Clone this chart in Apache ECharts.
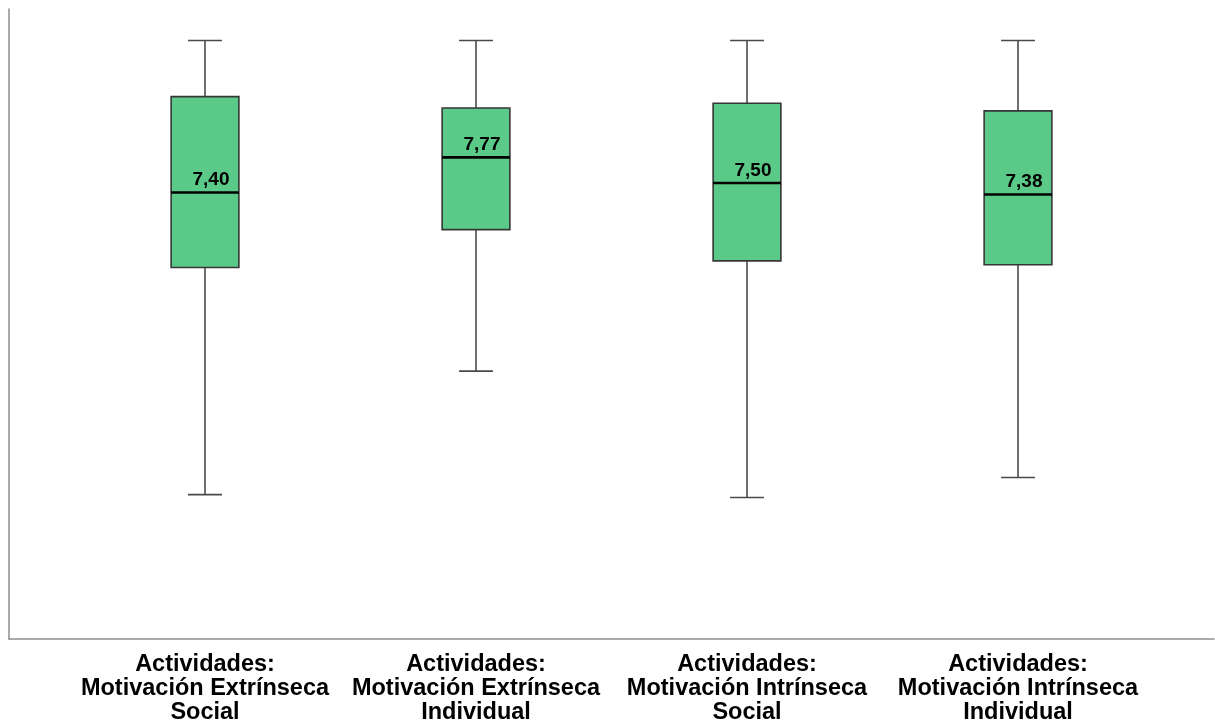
<!DOCTYPE html>
<html>
<head>
<meta charset="utf-8">
<script src="https://cdn.jsdelivr.net/npm/echarts@6/dist/echarts.min.js"></script>
<style>
html,body{margin:0;padding:0;background:#fff;}
#chart{width:1215px;height:721px;}
</style>
</head>
<body>
<div id="chart"></div>
<script>
const categories = [
  'Actividades:\nMotivación Extrínseca\nSocial',
  'Actividades:\nMotivación Extrínseca\nIndividual',
  'Actividades:\nMotivación Intrínseca\nSocial',
  'Actividades:\nMotivación Intrínseca\nIndividual'
];
const minValues    = [4.22, 5.52, 4.19, 4.40];
const q1Values     = [6.61, 7.01, 6.68, 6.64];
const medianValues = [7.40, 7.77, 7.50, 7.38];
const q3Values     = [8.41, 8.29, 8.34, 8.26];
const maxValues    = [9.00, 9.00, 9.00, 9.00];

const boxData = categories.map((c, i) => [i, minValues[i], q1Values[i], medianValues[i], q3Values[i], maxValues[i]]);

function fmt(v) { return v.toFixed(2).replace('.', ','); }

function renderItem(params, api) {
  const idx = api.value(0);
  const pMin = api.coord([idx, api.value(1)]);
  const pQ1 = api.coord([idx, api.value(2)]);
  const pMed = api.coord([idx, api.value(3)]);
  const pQ3 = api.coord([idx, api.value(4)]);
  const pMax = api.coord([idx, api.value(5)]);
  const x = pMed[0];
  const band = api.size([1, 0])[0];
  const bw = band * 0.25;
  const cw = bw / 2;
  const wStyle = { stroke: '#4a4a4a', lineWidth: 1.6 };
  return {
    type: 'group',
    children: [
      { type: 'line', shape: { x1: x, y1: pMax[1], x2: x, y2: pQ3[1] }, style: wStyle },
      { type: 'line', shape: { x1: x, y1: pQ1[1], x2: x, y2: pMin[1] }, style: wStyle },
      { type: 'line', shape: { x1: x - cw / 2, y1: pMax[1], x2: x + cw / 2, y2: pMax[1] }, style: wStyle },
      { type: 'line', shape: { x1: x - cw / 2, y1: pMin[1], x2: x + cw / 2, y2: pMin[1] }, style: wStyle },
      { type: 'rect', shape: { x: x - bw / 2, y: pQ3[1], width: bw, height: pQ1[1] - pQ3[1] },
        style: { fill: '#5bca88', stroke: '#363636', lineWidth: 1.6 } },
      { type: 'line', shape: { x1: x - bw / 2, y1: pMed[1], x2: x + bw / 2, y2: pMed[1] },
        style: { stroke: '#000', lineWidth: 2.6 } },
      { type: 'text', style: { text: fmt(api.value(3)), x: x + 6, y: pMed[1] - 3,
        align: 'center', verticalAlign: 'bottom',
        font: 'bold 19px "Liberation Sans", Arial, sans-serif', fill: '#000' } }
    ]
  };
}

const chart = echarts.init(document.getElementById('chart'), null, { renderer: 'canvas' });
chart.setOption({
  animation: false,
  backgroundColor: '#fff',
  grid: [
    { left: 69.5, right: 61.5, top: 9, bottom: 82, outerBoundsMode: 'none', containLabel: false },
    { left: 9, right: 1, top: 9, bottom: 82, outerBoundsMode: 'none', containLabel: false }
  ],
  xAxis: [
    { type: 'category', gridIndex: 0, data: categories,
      axisLine: { show: false }, axisTick: { show: false },
      axisLabel: { interval: 0, margin: 14, color: '#000', fontWeight: 'bold', fontSize: 23.5, lineHeight: 24,
        fontFamily: '"Liberation Sans", Arial, sans-serif' } },
    { type: 'value', gridIndex: 1, min: 0, max: 1,
      axisLine: { show: true, onZero: false, lineStyle: { color: '#8e8e8e', width: 1.5 } },
      axisTick: { show: false }, axisLabel: { show: false }, splitLine: { show: false } }
  ],
  yAxis: [
    { type: 'value', gridIndex: 0, min: 2.70, max: 9.332, show: false, splitLine: { show: false } },
    { type: 'value', gridIndex: 1, min: 0, max: 1,
      axisLine: { show: true, onZero: false, lineStyle: { color: '#8e8e8e', width: 1.5 } },
      axisTick: { show: false }, axisLabel: { show: false }, splitLine: { show: false } }
  ],
  series: [
    { type: 'custom', xAxisIndex: 0, yAxisIndex: 0, renderItem: renderItem, data: boxData,
      encode: { x: 0, y: [1, 2, 3, 4, 5] } }
  ]
});
</script>
</body>
</html>
